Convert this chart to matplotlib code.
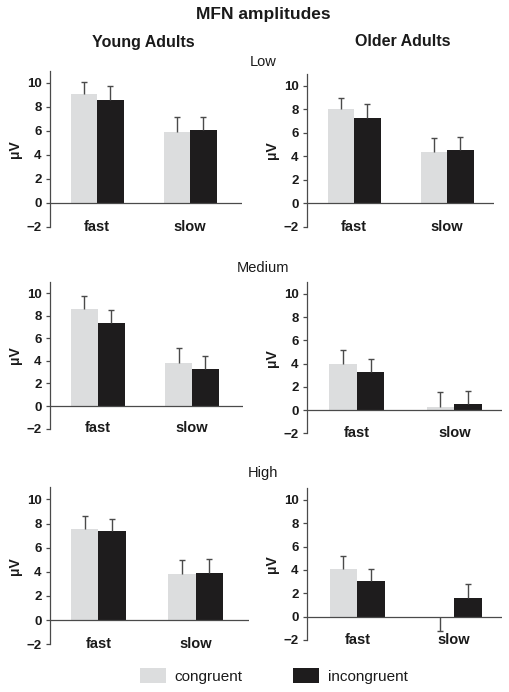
import numpy as np
import matplotlib
matplotlib.use("Agg")
import matplotlib.pyplot as plt
from matplotlib.patches import Patch

plt.rcParams["font.family"] = ["Liberation Sans", "DejaVu Sans"]

# Data (mean MFN amplitude in microvolts)
conditions = ["fast", "slow"]
groups = ["Young Adults", "Older Adults"]
loads = ["Low", "Medium", "High"]

young_low_cong = [9.1, 5.95]
young_low_cong_err = [1.0, 1.25]
young_low_incong = [8.55, 6.1]
young_low_incong_err = [1.2, 1.1]

older_low_cong = [8.03, 4.36]
older_low_cong_err = [0.97, 1.24]
older_low_incong = [7.24, 4.56]
older_low_incong_err = [1.19, 1.11]

young_med_cong = [8.59, 3.85]
young_med_cong_err = [1.17, 1.27]
young_med_incong = [7.38, 3.26]
young_med_incong_err = [1.09, 1.18]

older_med_cong = [4.0, 0.28]
older_med_cong_err = [1.17, 1.25]
older_med_incong = [3.27, 0.54]
older_med_incong_err = [1.11, 1.14]

young_high_cong = [7.54, 3.81]
young_high_cong_err = [1.11, 1.19]
young_high_incong = [7.40, 3.87]
young_high_incong_err = [0.97, 1.21]

older_high_cong = [4.05, -0.05]
older_high_cong_err = [1.11, 1.15]
older_high_incong = [3.05, 1.6]
older_high_incong_err = [1.0, 1.19]

panels = [
    [(young_low_cong, young_low_cong_err, young_low_incong, young_low_incong_err),
     (older_low_cong, older_low_cong_err, older_low_incong, older_low_incong_err)],
    [(young_med_cong, young_med_cong_err, young_med_incong, young_med_incong_err),
     (older_med_cong, older_med_cong_err, older_med_incong, older_med_incong_err)],
    [(young_high_cong, young_high_cong_err, young_high_incong, young_high_incong_err),
     (older_high_cong, older_high_cong_err, older_high_incong, older_high_incong_err)],
]

# layout in pixels: left, right, y(-2), y(top=11), fast centre, slow centre, bar width
W, H = 509, 692
layout = [
    [(50, 242, 227, 71, 97, 190, 26.5), (307, 494, 227, 74, 354, 447, 26.5)],
    [(50, 243, 428.7, 281.7, 97.5, 192, 27), (307, 502, 433.3, 282.3, 356.7, 454.3, 27.7)],
    [(50, 249, 644.3, 487.3, 98.3, 195.7, 27.5), (307, 502, 640, 488.3, 357.3, 454, 27.7)],
]

cong_color = "#dcddde"
incong_color = "#1e1c1d"
line_color = "#4a4a4a"
text_color = "#1a1a1a"

fig = plt.figure(figsize=(W / 100, H / 100), dpi=100)

for r in range(3):
    for c in range(2):
        left, right, ybot, ytop, c0, c1, bw = layout[r][c]
        sep = c1 - c0
        ax = fig.add_axes([left / W, 1 - ybot / H, (right - left) / W, (ybot - ytop) / H])
        cong, cong_err, incong, incong_err = panels[r][c]
        x = np.arange(len(conditions))
        w = bw / sep

        for vals, errs, off, col in [(cong, cong_err, -w / 2, cong_color),
                                     (incong, incong_err, w / 2, incong_color)]:
            vals = np.array(vals)
            errs = np.array(errs)
            ax.bar(x + off, vals, width=w, color=col, zorder=2)
            # one-sided error bars, pointing away from zero, cap only at the end
            ends = np.where(vals < 0, vals - errs, vals + errs)
            ax.vlines(x + off, vals, ends, color=line_color, lw=1.0, zorder=3)
            ax.plot(x + off, ends, ls="none", marker="_", ms=4.5, mew=1.0,
                    color=line_color, zorder=3)

        ax.set_xlim((left - c0) / sep, (right - c0) / sep)
        ax.set_ylim(-2, 11)
        ax.set_yticks([-2, 0, 2, 4, 6, 8, 10])
        ax.set_yticklabels(["\u22122", "0", "2", "4", "6", "8", "10"])
        ax.set_xticks([])
        for s in ["top", "right", "bottom"]:
            ax.spines[s].set_visible(False)
        ax.spines["left"].set_color(line_color)
        ax.spines["left"].set_linewidth(0.9)
        ax.axhline(0, color=line_color, lw=0.9, zorder=4)
        ax.tick_params(axis="y", length=3, width=0.9, color=line_color, pad=3,
                       labelsize=9.5, labelcolor=text_color)
        for lab in ax.get_yticklabels():
            lab.set_fontweight("bold")
        for xi, name in zip(x, conditions):
            ax.text(xi, -2.3, name, ha="center", va="baseline", fontsize=10.5,
                    fontweight="bold", color=text_color)
        ax.set_ylabel("\u03bcV", fontsize=10, fontweight="bold", color=text_color,
                      va="center")
        ax.yaxis.set_label_coords(-35 / (right - left), 0.5)
        ax.patch.set_alpha(0)

fig.text(263 / W, 1 - 14 / H, "MFN amplitudes", ha="center", va="center",
         fontsize=12.5, fontweight="bold", color=text_color)
fig.text(143.5 / W, 1 - 42 / H, groups[0], ha="center", va="center",
         fontsize=11.5, fontweight="bold", color=text_color)
fig.text(402.7 / W, 1 - 42 / H, groups[1], ha="center", va="center",
         fontsize=11.5, fontweight="bold", color=text_color)
for name, yc in zip(loads, [61.7, 268.3, 473.3]):
    fig.text(263 / W, 1 - yc / H, name, ha="center", va="center",
             fontsize=10.5, color=text_color)

handles = [Patch(facecolor=cong_color, label="congruent"),
           Patch(facecolor=incong_color, label="incongruent")]
fig.legend(handles=handles, loc="center", bbox_to_anchor=(274 / W, 1 - 676 / H),
           ncol=2, frameon=False, fontsize=11, handlelength=1.7, handleheight=1.1,
           handletextpad=0.55, columnspacing=3.3, labelcolor=text_color)

fig.savefig("out.png", dpi=100)
